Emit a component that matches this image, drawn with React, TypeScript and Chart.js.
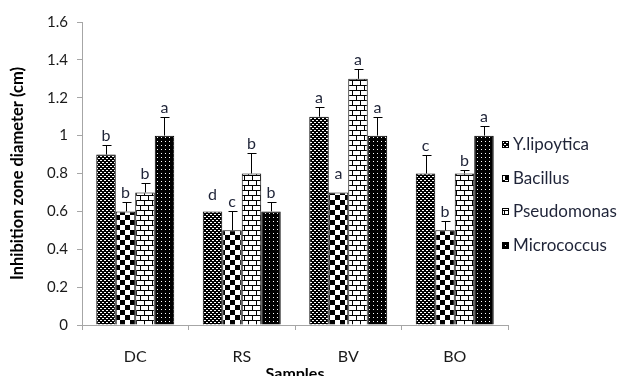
import { useEffect, useRef } from 'react';
import { Chart, registerables } from 'chart.js';

Chart.register(...registerables);

const categories = ['DC', 'RS', 'BV', 'BO'];
const seriesNames = ['Y.lipoytica', 'Bacillus', 'Pseudomonas', 'Micrococcus'];

const yLipoytica = [0.9, 0.6, 1.1, 0.8];
const bacillus = [0.6, 0.5, 0.7, 0.5];
const pseudomonas = [0.7, 0.8, 1.3, 0.8];
const micrococcus = [1.0, 0.6, 1.0, 1.0];

const yLipoyticaErr = [0.05, 0.04, 0.05, 0.1];
const bacillusErr = [0.05, 0.1, 0.05, 0.05];
const pseudomonasErr = [0.05, 0.11, 0.05, 0.02];
const micrococcusErr = [0.1, 0.05, 0.1, 0.05];

// error bars that are not drawn in the reference: [series, category]
const hiddenErr = [[0, 1], [1, 2]];

const yLipoyticaLetters = ['b', 'd', 'a', 'c'];
const bacillusLetters = ['b', 'c', 'a', 'b'];
const pseudomonasLetters = ['b', 'b', 'a', 'b'];
const micrococcusLetters = ['a', 'b', 'a', 'a'];

const yMin = 0;
const yMax = 1.6;
const yStep = 0.2;

const xTitle = 'Samples';
const yTitle = 'Inhibition zone diameter (cm)';

const FONT = 'Lato, "Open Sans", sans-serif';

function makePattern(kind: string): CanvasPattern | string {
  const c = document.createElement('canvas');
  let w = 4, h = 4;
  if (kind === 'check') { w = 10; h = 10; }
  if (kind === 'brick') { w = 8; h = 10; }
  if (kind === 'dots') { w = 4; h = 4; }
  c.width = w; c.height = h;
  const g = c.getContext('2d');
  if (!g) return '#000';
  if (kind === 'knit') {
    g.fillStyle = '#000'; g.fillRect(0, 0, 4, 4);
    g.fillStyle = '#fff';
    g.fillRect(0, 0, 2, 1);
    g.fillRect(2, 2, 2, 1);
  } else if (kind === 'check') {
    g.fillStyle = '#fff'; g.fillRect(0, 0, 10, 10);
    g.fillStyle = '#000';
    g.fillRect(0, 0, 5, 5);
    g.fillRect(5, 5, 5, 5);
  } else if (kind === 'brick') {
    g.fillStyle = '#fff'; g.fillRect(0, 0, 8, 10);
    g.fillStyle = '#000';
    g.fillRect(0, 0, 8, 1);
    g.fillRect(0, 5, 8, 1);
    g.fillRect(0, 1, 1, 4);
    g.fillRect(4, 6, 1, 4);
  } else if (kind === 'dots') {
    g.fillStyle = '#000'; g.fillRect(0, 0, 4, 4);
    g.fillStyle = '#fff';
    g.fillRect(1, 1, 1, 1);
  }
  return g.createPattern(c, 'repeat') || '#000';
}

export default function App() {
  const ref = useRef<HTMLCanvasElement | null>(null);

  useEffect(() => {
    const canvas = ref.current;
    if (!canvas) return;
    const values = [yLipoytica, bacillus, pseudomonas, micrococcus];
    const errs = [yLipoyticaErr, bacillusErr, pseudomonasErr, micrococcusErr];
    const letters = [yLipoyticaLetters, bacillusLetters, pseudomonasLetters, micrococcusLetters];
    const patterns = [makePattern('knit'), makePattern('check'), makePattern('brick'), makePattern('dots')];

    const isHidden = (d: number, i: number) => hiddenErr.some(([a, b]) => a === d && b === i);

    const errorPlugin = {
      id: 'errAndLetters',
      afterDatasetsDraw(chart: any) {
        const ctx = chart.ctx;
        const ys = chart.scales.y;
        ctx.save();
        values.forEach((_, d) => {
          const meta = chart.getDatasetMeta(d);
          meta.data.forEach((el: any, i: number) => {
            const v = values[d][i];
            const e = errs[d][i];
            const top = ys.getPixelForValue(v + e);
            const base = ys.getPixelForValue(v);
            const x = Math.round(el.x) + 0.5;
            if (!isHidden(d, i)) {
              ctx.strokeStyle = '#000';
              ctx.lineWidth = 1;
              ctx.beginPath();
              ctx.moveTo(x, base);
              ctx.lineTo(x, Math.round(top) + 0.5);
              ctx.moveTo(x - 4, Math.round(top) + 0.5);
              ctx.lineTo(x + 5, Math.round(top) + 0.5);
              ctx.stroke();
            }
            ctx.fillStyle = '#1f2438';
            ctx.font = `16px ${FONT}`;
            ctx.textAlign = 'center';
            ctx.textBaseline = 'alphabetic';
            ctx.fillText(letters[d][i], el.x, top - 4);
          });
        });
        ctx.restore();
      },
      afterDraw(chart: any) {
        const ctx = chart.ctx;
        ctx.save();
        const rowY = [145, 179, 212, 246];
        seriesNames.forEach((name, d) => {
          const y = rowY[d];
          ctx.fillStyle = patterns[d];
          ctx.fillRect(502, y - 4, 7, 7);
          ctx.strokeStyle = '#000';
          ctx.lineWidth = 1;
          ctx.strokeRect(502.5, y - 3.5, 6, 6);
          ctx.fillStyle = '#1f2438';
          ctx.font = `17px ${FONT}`;
          ctx.textAlign = 'left';
          ctx.textBaseline = 'middle';
          ctx.fillText(name, 513, y);
        });
        // x axis title (partly cut off at the bottom edge)
        ctx.fillStyle = '#000';
        ctx.font = `bold 16px ${FONT}`;
        ctx.textAlign = 'center';
        ctx.textBaseline = 'middle';
        const ca = chart.chartArea;
        ctx.fillText(xTitle, (ca.left + ca.right) / 2, 374);
        ctx.restore();
      },
    };

    const chart = new Chart(canvas, {
      type: 'bar',
      data: {
        labels: categories,
        datasets: seriesNames.map((name, d) => ({
          label: name,
          data: values[d],
          backgroundColor: patterns[d] as any,
          borderColor: '#000',
          borderWidth: 1,
          barPercentage: 1,
          categoryPercentage: 0.732,
        })),
      },
      options: {
        responsive: false,
        animation: false,
        layout: { padding: { top: 22, right: 117, left: 0, bottom: 0 } },
        plugins: {
          legend: { display: false },
          tooltip: { enabled: false },
        },
        scales: {
          x: {
            grid: { display: true, offset: true, drawOnChartArea: false, drawTicks: true, tickLength: 5, color: '#a6a6a6' },
            border: { display: true, color: '#a6a6a6' },
            ticks: { color: '#1a1a1a', font: { family: FONT, size: 16 }, padding: 17 },
            afterFit: (s: any) => { s.height = 51; },
          },
          y: {
            min: yMin,
            max: yMax,
            grid: { display: true, drawOnChartArea: false, drawTicks: true, tickLength: 5, color: '#a6a6a6' },
            border: { display: true, color: '#a6a6a6' },
            ticks: {
              stepSize: yStep,
              color: '#1a1a1a',
              font: { family: FONT, size: 15 },
              padding: 9,
              callback: (v: any) => String(Math.round(Number(v) * 10) / 10),
            },
            title: {
              display: true,
              text: yTitle,
              color: '#000',
              font: { family: FONT, size: 16.5, weight: 'bold' },
              padding: { top: 8, bottom: 0 },
            },
            afterFit: (s: any) => { s.width = 82; },
          },
        },
      },
      plugins: [errorPlugin],
    });
    return () => chart.destroy();
  }, []);

  return (
    <div style={{ position: 'absolute', left: 0, top: 0, width: 625, height: 376, background: '#fff' }}>
      <canvas ref={ref} width={625} height={376} />
    </div>
  );
}
